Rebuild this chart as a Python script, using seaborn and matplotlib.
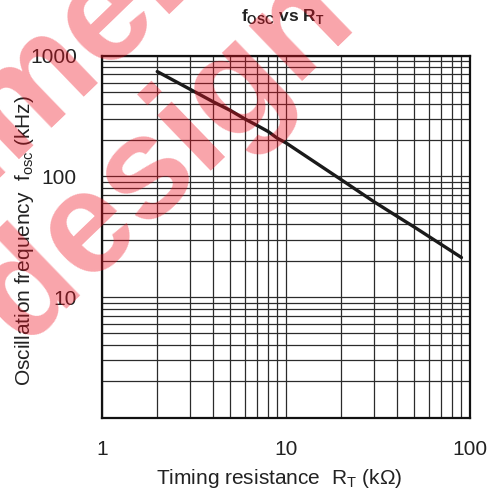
import numpy as np
import pandas as pd
import seaborn as sns
import matplotlib.pyplot as plt
from matplotlib.ticker import LogLocator, NullFormatter

# data (R_T in kOhm, f_osc in kHz)
rt_kohm = [2, 3, 4, 5, 6, 7, 8, 9, 10, 20, 30, 40, 50, 90]
fosc_khz = [740, 530, 418, 352, 299, 264, 236, 207, 190, 94, 62, 47, 38, 21.3]
x_ticks = [1, 10, 100]
y_ticks = [10, 100, 1000]

sns.set_style('white')
plt.rcParams['font.family'] = ['Liberation Sans', 'DejaVu Sans']
plt.rcParams['mathtext.fontset'] = 'custom'
plt.rcParams['mathtext.rm'] = 'Liberation Sans'
plt.rcParams['mathtext.bf'] = 'Liberation Sans:bold'

fig = plt.figure(figsize=(4.92, 4.98), dpi=100)
ax = fig.add_axes([0.207, 0.161, 0.748, 0.727])

df = pd.DataFrame({'rt': rt_kohm, 'fosc': fosc_khz})
sns.lineplot(data=df, x='rt', y='fosc', ax=ax, color='#1a1a1a', lw=2.4)

ax.set_xscale('log')
ax.set_yscale('log')
ax.set_xlim(1, 100)
ax.set_ylim(1, 1000)
ax.set_xticks(x_ticks, labels=[str(v) for v in x_ticks])
ax.set_yticks(y_ticks, labels=[str(v) for v in y_ticks])
ax.xaxis.set_minor_locator(LogLocator(base=10, subs=range(2, 10)))
ax.yaxis.set_minor_locator(LogLocator(base=10, subs=range(2, 10)))
ax.xaxis.set_minor_formatter(NullFormatter())
ax.yaxis.set_minor_formatter(NullFormatter())
ax.grid(which='both', color='#2b2b2b', lw=0.9)
ax.tick_params(which='both', length=0, labelsize=15, colors='#222222')
ax.tick_params(axis='x', pad=16)
ax.tick_params(axis='y', pad=18)
for s in ax.spines.values():
    s.set_color('#111111')
    s.set_linewidth(1.6)
ax.set_xlabel('')
ax.set_ylabel('')

# titles / labels
fig.text(283 / 492, 1 - 17 / 498, r'f$_\mathregular{OSC}$ vs R$_\mathregular{T}$',
         ha='center', va='center', fontsize=12.5, fontweight='bold', color='#222222')
fig.text(279 / 492, 1 - 478 / 498, r'Timing resistance  R$_\mathregular{T}$ (k$\mathregular{\Omega}$)',
         ha='center', va='center', fontsize=15, color='#222222')
fig.text(25 / 492, 1 - 240 / 498, r'Oscillation frequency  f$_\mathregular{osc}$ (kHz)',
         ha='center', va='center', rotation=90, fontsize=15, color='#222222')

# watermark
wm = dict(rotation=44, rotation_mode='anchor', ha='left', va='baseline',
          fontsize=104, fontweight='bold', color='#f01020', alpha=0.38, zorder=10)
fig.text(-1.09, -0.395, 'Not Recommended for', **wm)
fig.text(-0.42, -0.150, 'new design', **wm)

fig.savefig('out.png', dpi=100)
